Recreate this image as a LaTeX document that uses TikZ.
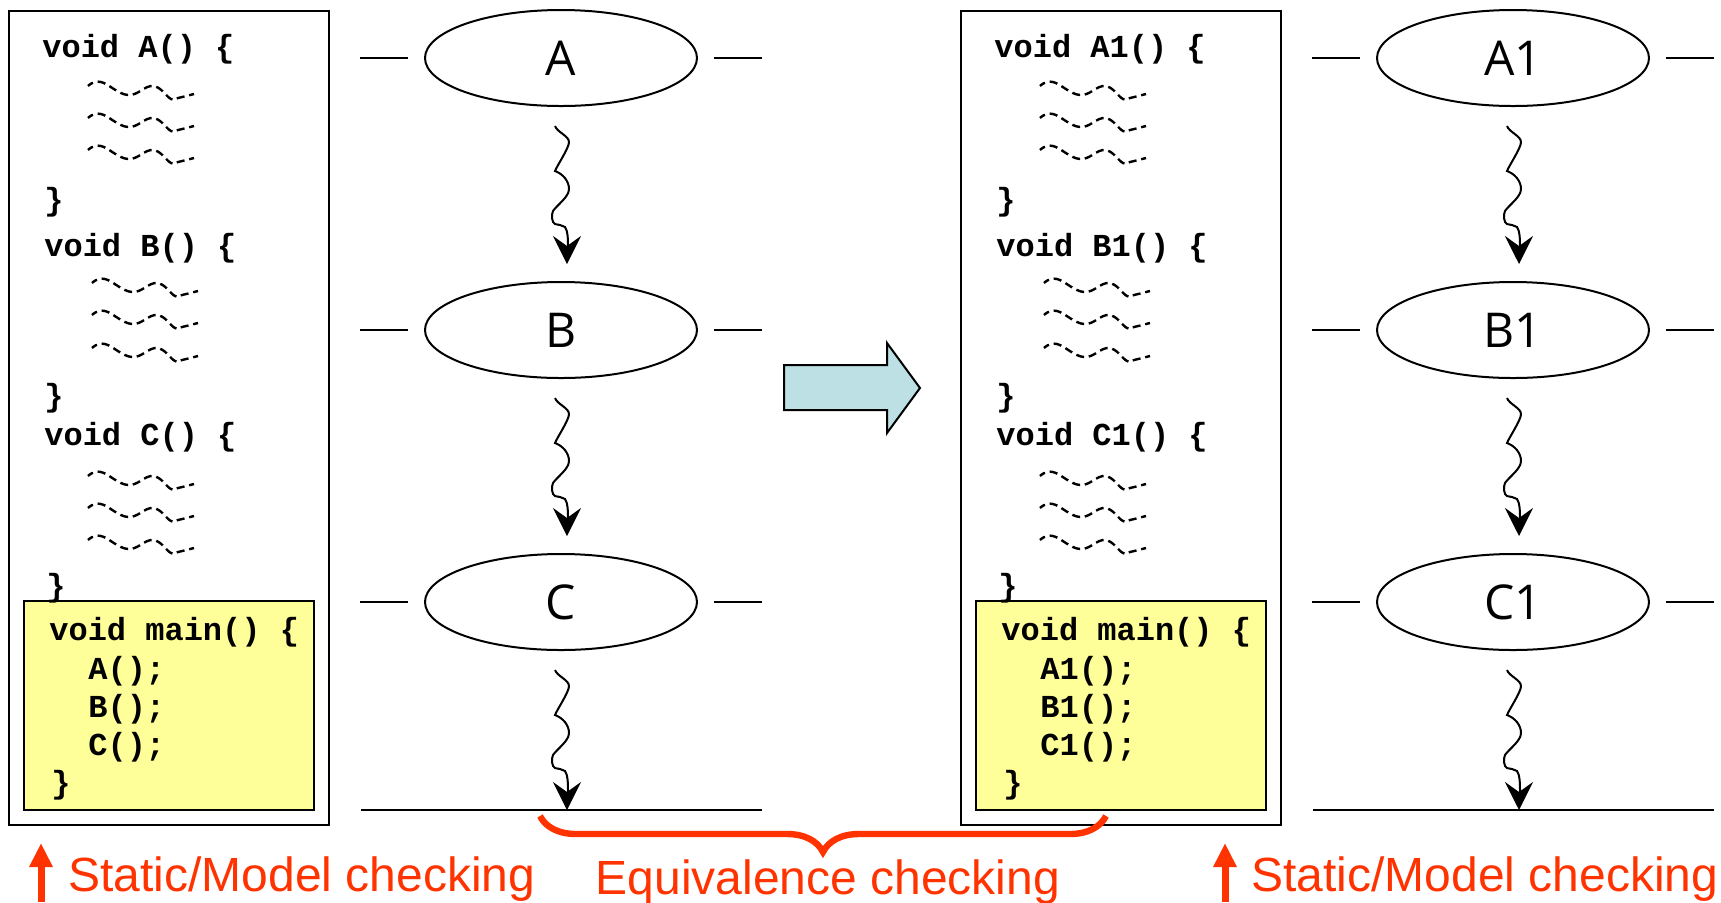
\documentclass[tikz,border=0pt]{standalone}
\usepackage{fontspec}
\setmainfont{Liberation Sans}
\newfontfamily\codefont{Liberation Mono}
\newfontfamily\labelfont{Open Sans}
\usetikzlibrary{shapes.geometric,arrows.meta,decorations.pathreplacing}
\definecolor{hilite}{HTML}{FF3300}
\definecolor{mainbg}{HTML}{FFFF99}
\definecolor{xformfill}{HTML}{BCE0E3}

\tikzset{
  code/.style={anchor=base west,inner sep=0pt,font=\codefont\bfseries\fontsize{16}{19}\selectfont},
  state/.style={ellipse,draw,line width=1pt,minimum width=136pt,minimum height=48pt,
    inner sep=0pt,font=\labelfont\fontsize{24}{28}\selectfont},
  stub/.style={line width=1pt},
  frame/.style={draw,line width=1pt},
  mainbox/.style={draw,line width=1.2pt,fill=mainbg},
  wiggle/.style={line width=1pt,-{Stealth[length=14pt,width=14pt,inset=5pt]}},
  redlabel/.style={text=hilite,inner sep=0pt,font=\fontsize{24}{28}\selectfont},
  redarrow/.style={hilite,line width=3.5pt,-{Triangle[length=12pt,width=11pt]}},
  squiggle/.pic={\draw[line width=1.2pt,dash pattern=on 4pt off 2.4pt,dash phase=1pt]
    plot[smooth,tension=0.7] coordinates {(0,0) (13,-4) (40,9) (65,0) (83,13) (90,12) (106,8)};}
}

\begin{document}
\begin{tikzpicture}[x=0.5pt,y=-0.5pt]
\useasboundingbox (0,0) rectangle (1721,902);

\foreach \dx/\s in {0/{},952/1}{
\begin{scope}[shift={(\dx,0)}]
  % source listing
  \draw[frame] (9,11) rectangle (329,825);
  \node[code] (hdA\s) at (42,57) {void A\s() \{};
  \pic at (88,86) {squiggle};
  \pic at (88,118) {squiggle};
  \pic at (88,150) {squiggle};
  \node[code] (clA\s) at (44,210) {\}};
  \node[code] (hdB\s) at (44,256) {void B\s() \{};
  \pic at (92,283) {squiggle};
  \pic at (92,315) {squiggle};
  \pic at (92,348) {squiggle};
  \node[code] (clB\s) at (44,406) {\}};
  \node[code] (hdC\s) at (44,445) {void C\s() \{};
  \pic at (88,476) {squiggle};
  \pic at (88,508) {squiggle};
  \pic at (88,540) {squiggle};
  \draw[mainbox] (24,601) rectangle (314,810);
  \node[code] (clC\s) at (46,596) {\}};
  \node[code] (mn\s) at (49,640) {void main() \{};
  \node[code] (cA\s) at (88,679) {A\s();};
  \node[code] (cB\s) at (88,717) {B\s();};
  \node[code] (cC\s) at (88,755) {C\s();};
  \node[code] (mc\s) at (51,793) {\}};

  % execution trace
  \node[state] (A\s) at (561,58) {A\s};
  \node[state] (B\s) at (561,330) {B\s};
  \node[state] (C\s) at (561,602) {C\s};
  \foreach \n in {A,B,C}{
    \draw[stub] ([xshift=-8pt]\n\s.west) -- ++(-48,0);
    \draw[stub] ([xshift=8pt]\n\s.east) -- ++(48,0);
    \coordinate (go\n\s) at ([xshift=-3pt,yshift=-9.5pt]\n\s.south);
    \coordinate (in\n\s) at ([xshift=3pt,yshift=8.5pt]\n\s.north);
  }
  \coordinate (tl\s) at (361,810);
  \coordinate (tr\s) at (762,810);
  \coordinate (tm\s) at (567,810);
  \draw[stub] (tl\s) -- (tr\s);

  \foreach \from/\to in {goA/inB, goB/inC, goC/tm}{
    \draw[wiggle] (\from\s)
      .. controls +(2,6) and +(0,-6) .. ++(14,16)
      .. controls +(0,6) and +(3,-7) .. ++(-14,29)
      .. controls +(8,3) and +(0,-8) .. ++(14,18)
      .. controls +(0,8) and +(4,-6) .. ++(-16,22)
      .. controls +(-2,4) and +(-3,-1) .. ++(2,13)
      .. controls +(4,1) and +(-3,-2) .. ++(10,3)
      .. controls +(3,4) and +(0,-6) .. ++(3,19)
      .. controls +(0,8) and +(0,-8) .. (\to\s);
  }
\end{scope}
}

% transformation arrow
\draw[line width=1pt,fill=xformfill,line join=miter]
  (784,365) -- (887,365) -- (887,343) -- (920,388) -- (887,433) -- (887,410) -- (784,410) -- cycle;

% checking annotations
\coordinate (brL) at (540,816);
\coordinate (brR) at (1106,816);
\draw[hilite,line width=3.2pt,decorate,decoration={brace,mirror,amplitude=18pt,aspect=0.5}] (brL) -- (brR);
\node[redlabel,anchor=base] (eqv) at (828,894) {Equivalence checking};

\coordinate (upL) at (41,902);
\coordinate (upLt) at (41,843);
\draw[redarrow] (upL) -- (upLt);
\node[redlabel,anchor=base west] (stL) at (68,891) {Static/Model checking};

\coordinate (upR) at (1225,902);
\coordinate (upRt) at (1225,843);
\draw[redarrow] (upR) -- (upRt);
\node[redlabel,anchor=base west] (stR) at (1251,891) {Static/Model checking};
\end{tikzpicture}
\end{document}
